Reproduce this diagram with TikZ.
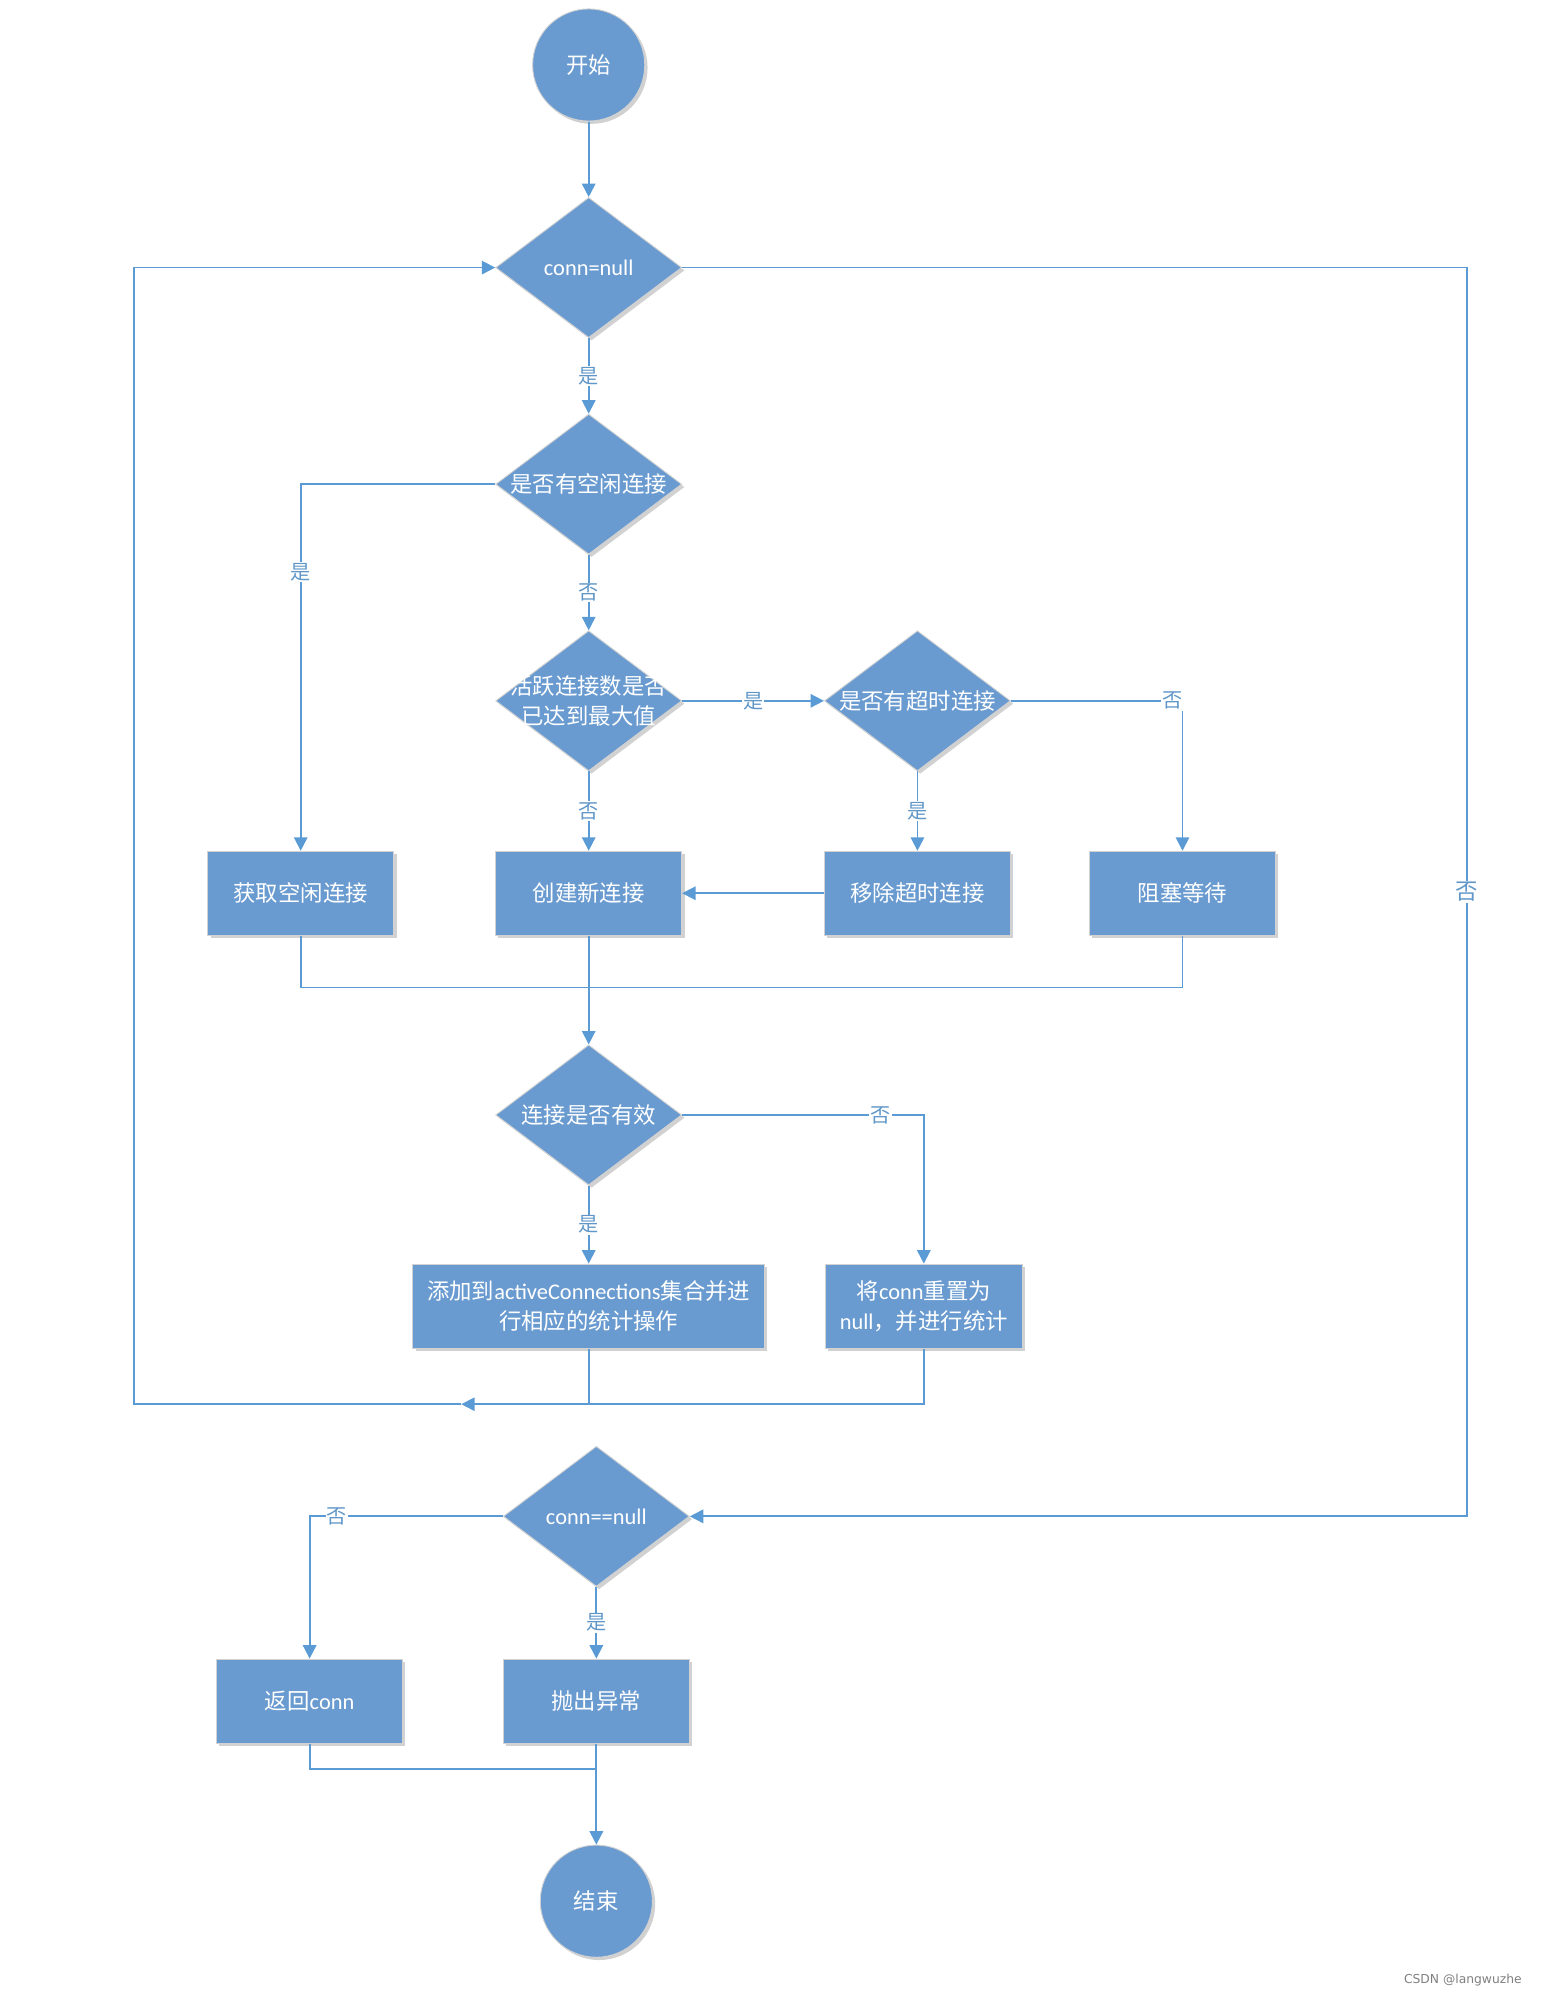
\documentclass[tikz,border=0pt]{standalone}
\usepackage{fontspec}
\usepackage{xcolor}
\setmainfont{Carlito}
\newfontfamily\cjk{Noto Sans CJK SC}
\newfontfamily\lat{Carlito}
\newfontfamily\wmfont{DejaVu Sans}
\usetikzlibrary{arrows.meta,shapes.geometric,shadows}

\definecolor{boxblue}{HTML}{6A9BD0}
\definecolor{lineblue}{HTML}{5B9BD5}
\newcommand{\ctr}[1]{\makebox[0pt]{#1}}

\begin{document}
\begin{tikzpicture}[x=0.4mm, y=-0.4mm,
  softshadow/.style={drop shadow={shadow xshift=2.5pt, shadow yshift=-2.5pt, opacity=0.3, fill=black!60}},
  startstop/.style={circle, fill=boxblue, draw=gray!35, line width=0.8pt, minimum size=35.2mm, inner sep=0pt, softshadow, text=white, font=\cjk\fontsize{20}{27}\selectfont},
  decision/.style={diamond, fill=boxblue, draw=gray!35, line width=0.8pt, minimum width=58.4mm, minimum height=44mm, inner sep=0pt, softshadow, text=white, align=center, font=\cjk\fontsize{20}{27}\selectfont},
  process/.style={rectangle, fill=boxblue, draw=gray!35, line width=0.8pt, minimum width=58.4mm, minimum height=26.4mm, inner sep=0pt, softshadow, text=white, align=center, font=\cjk\fontsize{20}{27}\selectfont},
  flowline/.style={draw=lineblue, line width=1.6pt, -{Triangle[width=12pt,length=12pt]}},
  plainline/.style={draw=lineblue, line width=1.6pt},
  edgelabel/.style={fill=white, inner sep=1pt, text=lineblue!85!gray, font=\cjk\fontsize{18}{20}\selectfont}]
\useasboundingbox (0,0) rectangle (1209,1568);

% Start and first check
\node[startstop] (start) at (462,51) {开始};
\node[decision] (d1) at (462,210) {\ctr{\lat conn=null}};
\node[decision] (d2) at (462,380) {\ctr{是否有空闲连接}};
\node[decision] (d3) at (462,550) {\ctr{活跃连接数是否}\\\ctr{已达到最大值}};
\node[decision] (d4) at (720,550) {\ctr{是否有超时连接}};

% Getting a connection
\node[process] (box1) at (236,701) {获取空闲连接};
\node[process] (box2) at (462,701) {创建新连接};
\node[process] (box3) at (720,701) {移除超时连接};
\node[process] (box4) at (928,701) {阻塞等待};

% Validity check
\node[decision] (d5) at (462,875) {\ctr{连接是否有效}};
\node[process, minimum width=110.4mm] (box5) at (462,1025) {添加到{\lat activeConnections}集合并进\\行相应的统计操作};
\node[process, minimum width=62mm] (box6) at (725,1025) {将{\lat conn}重置为\\{\lat null}，并进行统计};

% Final check and end
\node[decision] (d6) at (468,1190) {\ctr{\lat conn==null}};
\node[process] (box7) at (243,1335) {返回{\lat conn}};
\node[process] (box8) at (468,1335) {抛出异常};
\node[startstop] (stop) at (468,1492) {结束};

% Helper points
\coordinate (join1) at (462,775);
\coordinate (join2) at (462,1102);
\coordinate (back) at (362,1102);
\coordinate (loopcorner) at (105,1102);
\coordinate (exitcorner) at (1151,210);
\coordinate (join3) at (468,1388);

% Connectors
\draw[flowline] (start.south) -- (d1.north);
\draw[flowline] (d1.south) -- node[edgelabel] {是} (d2.north);
\draw[flowline] (d2.west) -| node[edgelabel, pos=0.62] {是} (box1.north);
\draw[flowline] (d2.south) -- node[edgelabel] {否} (d3.north);
\draw[flowline] (d3.east) -- node[edgelabel] {是} (d4.west);
\draw[flowline] (d4.east) -| node[edgelabel, pos=0.47] {否} (box4.north);
\draw[flowline] (d4.south) -- node[edgelabel] {是} (box3.north);
\draw[flowline] (d3.south) -- node[edgelabel] {否} (box2.north);
\draw[flowline] (box3.west) -- (box2.east);

% Merge into validity check
\draw[plainline] (box1.south) |- (join1);
\draw[plainline] (box4.south) |- (join1);
\draw[flowline] (box2.south) -- (d5.north);
\draw[flowline] (d5.east) -| node[edgelabel, pos=0.41] {否} (box6.north);
\draw[flowline] (d5.south) -- node[edgelabel] {是} (box5.north);

% Loop back
\draw[plainline] (box5.south) -- (join2);
\draw[flowline] (box6.south) |- (back);
\draw[flowline] (back) -- (loopcorner) |- (d1.west);

% Exit of the loop
\draw[flowline] (d1.east) -- (exitcorner) |- node[edgelabel, pos=0.25, font=\cjk\fontsize{20}{22}\selectfont] {否} (d6.east);
\draw[flowline] (d6.west) -| node[edgelabel, pos=0.43] {否} (box7.north);
\draw[flowline] (d6.south) -- node[edgelabel] {是} (box8.north);
\draw[plainline] (box7.south) |- (join3);
\draw[flowline] (box8.south) -- (stop.north);

% Watermark
\node[text=gray, font=\wmfont\fontsize{11}{13}\selectfont] (mark) at (1148,1554) {CSDN @langwuzhe};
\end{tikzpicture}
\end{document}
